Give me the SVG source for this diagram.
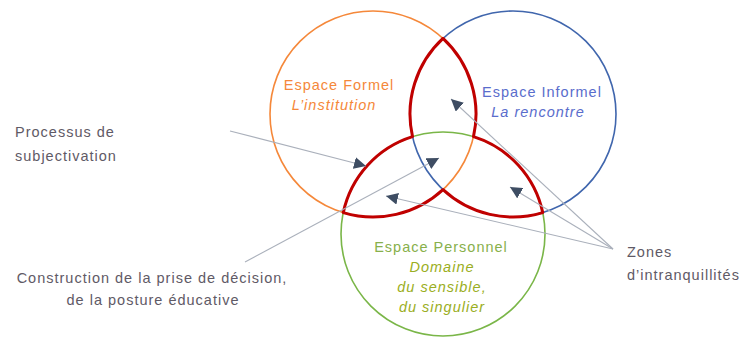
<svg xmlns="http://www.w3.org/2000/svg" width="749" height="338" viewBox="0 0 749 338">
<style>
text{font-family:"Liberation Sans",Arial,sans-serif;font-size:14.5px;letter-spacing:1px}
.it{font-style:italic}
.lbl{fill:#5f5a66}
.circ{fill:none;stroke-width:1.6}
.conn{stroke:#aab0bb;stroke-width:1.1;fill:none;marker-end:url(#ah)}
</style>
<defs>
<marker id="ah" viewBox="0 0 10 10" refX="10" refY="5" markerWidth="12" markerHeight="12" markerUnits="userSpaceOnUse" orient="auto">
<path d="M0,0 L10,5 L0,10 Z" fill="#3e4d63"/>
</marker>
</defs>
<rect width="749" height="338" fill="#ffffff"/>
<g id="formel">
<circle class="circ" cx="373" cy="114" r="103" stroke="#f5883a"/>
<text x="339" y="90" text-anchor="middle" fill="#f5883a">Espace Formel</text>
<text class="it" x="334" y="110" text-anchor="middle" fill="#f5883a">L’institution</text>
</g>
<g id="informel">
<circle class="circ" cx="513" cy="114" r="103" stroke="#4066ad"/>
<text x="542" y="97" text-anchor="middle" fill="#5a6dcc">Espace Informel</text>
<text class="it" x="538" y="117" text-anchor="middle" fill="#5a6dcc">La rencontre</text>
</g>
<g id="personnel">
<circle class="circ" cx="443" cy="234" r="102" stroke="#7ab648"/>
<text x="441" y="252" text-anchor="middle" fill="#88b04b">Espace Personnel</text>
<text class="it" x="442" y="272" text-anchor="middle" fill="#9aae22">Domaine</text>
<text class="it" x="442" y="292" text-anchor="middle" fill="#9aae22">du sensible,</text>
<text class="it" x="442" y="312" text-anchor="middle" fill="#9aae22">du singulier</text>
</g>
<g id="zones-intranquillite">
<path d="M443,38.44 A103,103 0 0 0 412.52,136.66 A102,102 0 0 0 343.26,212.62 A103,103 0 0 0 443,189.56 A103,103 0 0 0 542.74,212.62 A102,102 0 0 0 473.48,136.66 A103,103 0 0 0 443,38.44 Z" fill="none" stroke="#c00000" stroke-width="3" stroke-linejoin="round"/>
</g>
<g id="processus">
<text class="lbl" x="15" y="137">Processus de</text>
<text class="lbl" x="15" y="161">subjectivation</text>
</g>
<g id="construction">
<text class="lbl" x="152" y="283" text-anchor="middle">Construction de la prise de décision,</text>
<text class="lbl" x="153" y="305" text-anchor="middle">de la posture éducative</text>
</g>
<g id="zones">
<text class="lbl" x="627" y="257">Zones</text>
<text class="lbl" x="627" y="280">d’intranquillités</text>
</g>
<g id="connectors">
<line class="conn" x1="230" y1="131" x2="366" y2="166"/>
<line class="conn" x1="245" y1="262" x2="439" y2="158"/>
<line class="conn" x1="613" y1="249" x2="451" y2="99"/>
<line class="conn" x1="613" y1="249" x2="510" y2="187"/>
<line class="conn" x1="613" y1="249" x2="386" y2="196"/>
</g>
</svg>
